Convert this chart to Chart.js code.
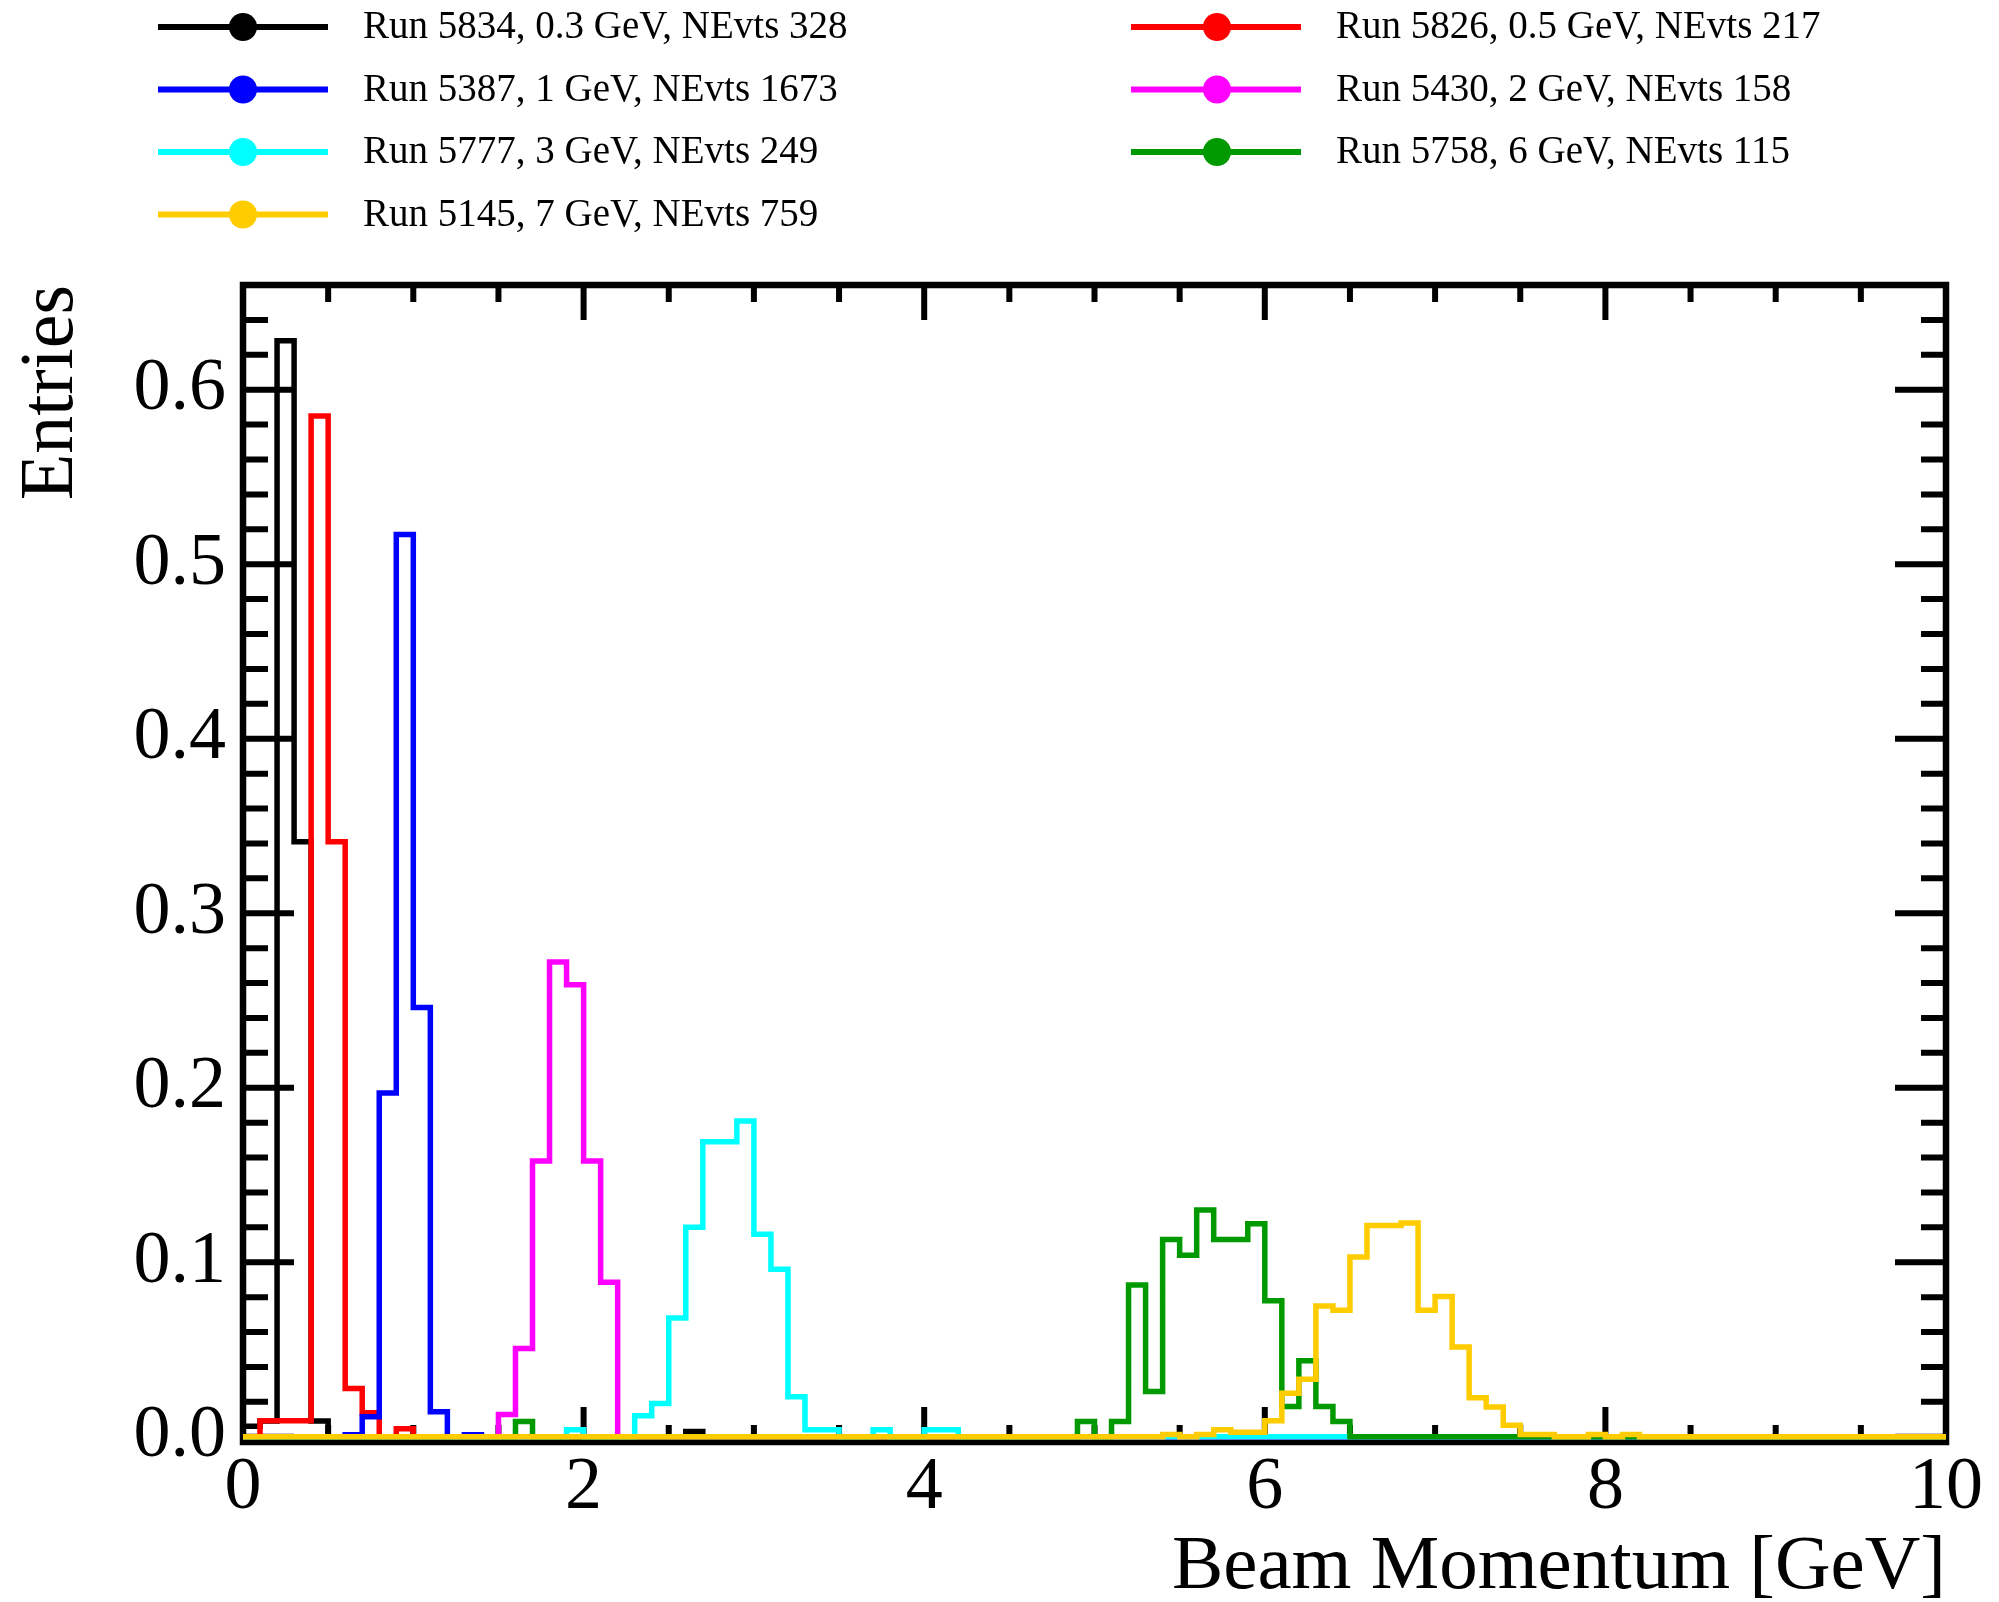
<!DOCTYPE html>
<html>
<head>
<meta charset="utf-8">
<title>Beam Momentum</title>
<script src="https://cdn.jsdelivr.net/npm/chart.js@4.4.1/dist/chart.umd.min.js"></script>
<style>
  html, body { margin: 0; padding: 0; background: #fff; }
  canvas { display: block; }
</style>
</head>
<body>
<canvas id="momentumChart" width="1999" height="1602"></canvas>
<script>
// binning: 100 bins of 0.1 GeV between 0 and 10 GeV
const xMin = 0;
const xMax = 10;
const binWidth = 0.1;

// runs, in legend order
const runNumbers = [5834, 5826, 5387, 5430, 5777, 5758, 5145];
const beamEnergies = ["0.3", "0.5", "1", "2", "3", "6", "7"];
const nEvts = [328, 217, 1673, 158, 249, 115, 759];
const lineColors = ["#000000", "#ff0000", "#0000ff", "#ff00ff", "#00ffff", "#009900", "#ffcc00"];

// normalised entries as [bin low edge (GeV), entries], bins not listed are empty
const run5834 = [[0.0, 0.006], [0.1, 0.009], [0.2, 0.628], [0.3, 0.341], [0.4, 0.009], [2.6, 0.003]];
const run5826 = [[0.1, 0.0092], [0.2, 0.0092], [0.3, 0.0092], [0.4, 0.585], [0.5, 0.341],
                 [0.6, 0.0276], [0.7, 0.0138], [0.9, 0.0046]];
const run5387 = [[0.6, 0.0012], [0.7, 0.0114], [0.8, 0.197], [0.9, 0.517], [1.0, 0.246],
                 [1.1, 0.0143], [1.3, 0.0012]];
const run5430 = [[1.5, 0.0127], [1.6, 0.0506], [1.7, 0.158], [1.8, 0.272], [1.9, 0.259],
                 [2.0, 0.158], [2.1, 0.0886]];
const run5777 = [[1.9, 0.004], [2.3, 0.012], [2.4, 0.019], [2.5, 0.068], [2.6, 0.120], [2.7, 0.169],
                 [2.8, 0.169], [2.9, 0.181], [3.0, 0.116], [3.1, 0.096], [3.2, 0.023], [3.3, 0.004],
                 [3.4, 0.004], [3.7, 0.004], [4.0, 0.004], [4.1, 0.004]];
const run5758 = [[1.6, 0.0087], [4.9, 0.0087], [5.1, 0.0087], [5.2, 0.087], [5.3, 0.026], [5.4, 0.113],
                 [5.5, 0.104], [5.6, 0.130], [5.7, 0.113], [5.8, 0.113], [5.9, 0.122], [6.0, 0.078],
                 [6.1, 0.0174], [6.2, 0.0435], [6.3, 0.0174], [6.4, 0.0087]];
const run5145 = [[5.4, 0.0013], [5.6, 0.0013], [5.7, 0.004], [5.8, 0.0026], [5.9, 0.0026], [6.0, 0.0092],
                 [6.1, 0.025], [6.2, 0.033], [6.3, 0.075], [6.4, 0.0725], [6.5, 0.103], [6.6, 0.121],
                 [6.7, 0.121], [6.8, 0.1225], [6.9, 0.0725], [7.0, 0.0804], [7.1, 0.0514], [7.2, 0.0224],
                 [7.3, 0.0171], [7.4, 0.0066], [7.5, 0.0013], [7.6, 0.0013], [7.9, 0.0013], [8.1, 0.0013]];
const runEntries = [run5834, run5826, run5387, run5430, run5777, run5758, run5145];

// axis tick labels
const xTickLabels = [0, 2, 4, 6, 8, 10];
const yTickLabels = [0, 0.1, 0.2, 0.3, 0.4, 0.5, 0.6];

const serif = '"Liberation Serif", "Times New Roman", serif';

// turn the listed bins into step points, one per bin low edge plus the upper end
function fillBins(entries) {
  const nBins = Math.round((xMax - xMin) / binWidth);
  const values = new Array(nBins).fill(0);
  entries.forEach(([lowEdge, v]) => {
    values[Math.round((lowEdge - xMin) / binWidth)] = v;
  });
  const points = values.map((v, k) => ({ x: xMin + k * binWidth, y: v }));
  points.push({ x: xMax, y: values[nBins - 1] });
  return points;
}

const datasets = runEntries.map((entries, i) => ({
  label: `Run ${runNumbers[i]}, ${beamEnergies[i]} GeV, NEvts ${nEvts[i]}`,
  data: fillBins(entries),
  borderColor: lineColors[i],
  backgroundColor: lineColors[i],
  borderWidth: 5.5,
  stepped: "before",
  pointRadius: 0,
  fill: false,
  order: runEntries.length - 1 - i // last run drawn on top
}));

// frame with inner ticks on all four sides, ROOT style
const rootFrame = {
  id: "rootFrame",
  beforeDatasetsDraw(chart) {
    const { ctx, chartArea: a, scales: { x, y } } = chart;
    ctx.save();
    ctx.strokeStyle = "#000";
    ctx.lineWidth = 6;
    ctx.beginPath();
    for (let i = 0; i <= 20; i++) {
      const v = i * 0.5;
      const px = x.getPixelForValue(v);
      const len = i % 4 === 0 ? 35 : 17;
      ctx.moveTo(px, a.bottom); ctx.lineTo(px, a.bottom - len);
      ctx.moveTo(px, a.top); ctx.lineTo(px, a.top + len);
    }
    for (let i = 0; i <= 33; i++) {
      const v = i * 0.02;
      if (v > y.max) break;
      const py = y.getPixelForValue(v);
      const len = i % 5 === 0 ? 51 : 25;
      ctx.moveTo(a.left, py); ctx.lineTo(a.left + len, py);
      ctx.moveTo(a.right, py); ctx.lineTo(a.right - len, py);
    }
    ctx.stroke();
    ctx.lineWidth = 6.5;
    ctx.strokeRect(a.left, a.top, a.right - a.left, a.bottom - a.top);
    ctx.restore();
  }
};

// two-column legend above the frame
const rootLegend = {
  id: "rootLegend",
  afterDraw(chart, args, opts) {
    const { ctx } = chart;
    ctx.save();
    ctx.font = `${opts.fontSize}px ${serif}`;
    ctx.textBaseline = "middle";
    ctx.textAlign = "left";
    chart.data.datasets.forEach((ds, i) => {
      const col = opts.cols[i % 2];
      const yc = opts.rowTop + Math.floor(i / 2) * opts.rowStep;
      ctx.strokeStyle = ds.borderColor;
      ctx.fillStyle = ds.borderColor;
      ctx.lineWidth = 6;
      ctx.beginPath();
      ctx.moveTo(col.lineFrom, yc);
      ctx.lineTo(col.lineTo, yc);
      ctx.stroke();
      ctx.beginPath();
      ctx.arc(col.marker, yc, 14, 0, Math.PI * 2);
      ctx.fill();
      ctx.fillStyle = "#000";
      ctx.fillText(ds.label, col.text, yc + 1);
    });
    ctx.restore();
  }
};

new Chart(document.getElementById("momentumChart"), {
  type: "line",
  data: { datasets: datasets },
  options: {
    responsive: false,
    animation: false,
    events: [],
    layout: { padding: { top: 285, left: 0, right: 53, bottom: 0 } },
    plugins: {
      legend: { display: false },
      tooltip: { enabled: false },
      rootLegend: {
        fontSize: 39,
        rowTop: 27,
        rowStep: 62.5,
        cols: [
          { lineFrom: 158, lineTo: 328, marker: 243, text: 363 },
          { lineFrom: 1131, lineTo: 1301, marker: 1217, text: 1336 }
        ]
      }
    },
    scales: {
      x: {
        type: "linear",
        min: xMin,
        max: xMax,
        afterBuildTicks: (s) => { s.ticks = xTickLabels.map((v) => ({ value: v })); },
        afterFit: (s) => { s.height = 160; },
        grid: { display: false, drawTicks: false },
        border: { display: false },
        ticks: {
          color: "#000",
          padding: 2,
          autoSkip: false,
          maxRotation: 0,
          font: { family: serif, size: 74 },
          callback: (v) => String(v)
        },
        title: {
          display: true,
          text: "Beam Momentum [GeV]",
          align: "end",
          color: "#000",
          font: { family: serif, size: 77, lineHeight: 0.9 },
          padding: { top: 0, bottom: 0 }
        }
      },
      y: {
        type: "linear",
        min: -0.003,
        max: 0.66,
        afterBuildTicks: (s) => { s.ticks = yTickLabels.map((v) => ({ value: v })); },
        afterFit: (s) => { s.width = 243; },
        grid: { display: false, drawTicks: false },
        border: { display: false },
        ticks: {
          color: "#000",
          padding: 17,
          autoSkip: false,
          font: { family: serif, size: 74 },
          callback: (v) => Number(v).toFixed(1)
        },
        title: {
          display: true,
          text: "Entries",
          align: "end",
          color: "#000",
          font: { family: serif, size: 76, lineHeight: 1 },
          padding: { top: 14, bottom: 0 }
        }
      }
    }
  },
  plugins: [rootFrame, rootLegend]
});
</script>
</body>
</html>
